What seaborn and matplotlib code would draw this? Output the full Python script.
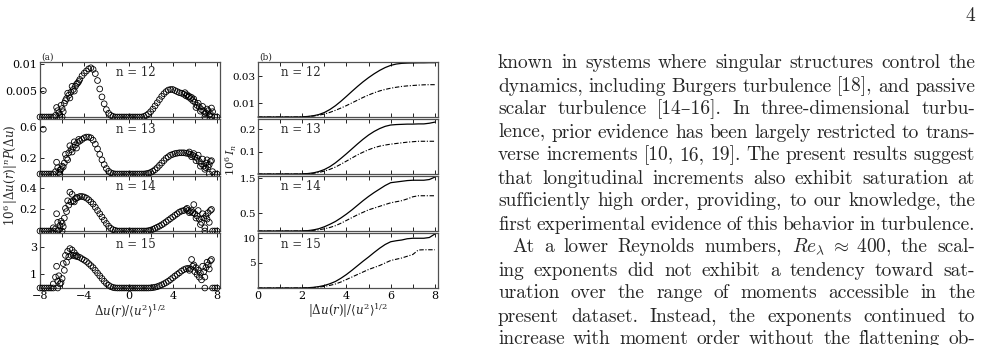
import re
import numpy as np
import pandas as pd
import matplotlib
matplotlib.use("Agg")
import matplotlib.pyplot as plt
import seaborn as sns

# ---------------- data ----------------
ORDERS = [12, 13, 14, 15]
ORDER_LABELS = ["n = 12", "n = 13", "n = 14", "n = 15"]

# panel (a): normalised increment grid
DU = [-8.0, -7.8, -7.6, -7.4, -7.2, -7.0, -6.8, -6.6, -6.4,
      -6.2, -6.0, -5.8, -5.6, -5.4, -5.2, -5.0, -4.8, -4.6,
      -4.4, -4.2, -4.0, -3.8, -3.6, -3.4, -3.2, -3.0, -2.8,
      -2.6, -2.4, -2.2, -2.0, -1.8, -1.6, -1.4, -1.2, -1.0,
      -0.8, -0.6, -0.4, -0.2, 0.0, 0.2, 0.4, 0.6, 0.8,
      1.0, 1.2, 1.4, 1.6, 1.8, 2.0, 2.2, 2.4, 2.6,
      2.8, 3.0, 3.2, 3.4, 3.6, 3.8, 4.0, 4.2, 4.4,
      4.6, 4.8, 5.0, 5.2, 5.4, 5.6, 5.8, 6.0, 6.2,
      6.4, 6.6, 6.8, 7.0, 7.2, 7.4, 7.6, 7.8, 8.0]

PDF12 = [0, 0, 0, 0, 0, 0, 0, 0.0003, 0.0012,
         0.0005, 0.0016, 0.0026, 0.0035, 0.0041, 0.0047, 0.0052, 0.0058, 0.0064,
         0.0071, 0.0078, 0.0083, 0.0087, 0.0091, 0.0093, 0.0090, 0.0082, 0.0069,
         0.0053, 0.0038, 0.0025, 0.0014, 0.0007, 0.0003, 0.0001, 0, 0,
         0, 0, 0, 0, 0, 0, 0, 0, 0,
         0, 0, 0.0001, 0.0003, 0.0006, 0.0010, 0.0015, 0.0021, 0.0027,
         0.0033, 0.0039, 0.0044, 0.0048, 0.0051, 0.0052, 0.0052, 0.0050, 0.0048,
         0.0046, 0.0045, 0.0043, 0.0040, 0.0038, 0.0035, 0.0031, 0.0028, 0.0022,
         0.0019, 0.0014, 0.0011, 0.0008, 0.0012, 0.0006, 0.0010, 0, 0]

PDF13 = [0, 0, 0, 0, 0, 0, 0, 0.03, 0.08,
         0.05, 0.10, 0.14, 0.20, 0.27, 0.31, 0.34, 0.37, 0.40,
         0.42, 0.44, 0.46, 0.47, 0.47, 0.46, 0.43, 0.38, 0.32,
         0.25, 0.18, 0.12, 0.07, 0.035, 0.015, 0.005, 0, 0,
         0, 0, 0, 0, 0, 0, 0, 0, 0,
         0, 0, 0, 0.004, 0.01, 0.02, 0.035, 0.055, 0.08,
         0.11, 0.14, 0.17, 0.20, 0.22, 0.24, 0.25, 0.26, 0.265,
         0.27, 0.27, 0.27, 0.265, 0.26, 0.25, 0.24, 0.22, 0.20,
         0.16, 0.13, 0.10, 0.14, 0.09, 0.16, 0.03, 0, 0]

PDF14 = [0, 0, 0, 0, 0, 0, 0, 0.02, 0.08,
         0.05, 0.07, 0.12, 0.18, 0.24, 0.27, 0.28, 0.30, 0.31,
         0.32, 0.32, 0.315, 0.305, 0.29, 0.27, 0.25, 0.22, 0.19,
         0.16, 0.13, 0.10, 0.07, 0.045, 0.025, 0.012, 0.005, 0,
         0, 0, 0, 0, 0, 0, 0, 0, 0,
         0, 0, 0, 0, 0.003, 0.008, 0.015, 0.025, 0.035,
         0.045, 0.057, 0.07, 0.085, 0.10, 0.115, 0.13, 0.145, 0.16,
         0.175, 0.185, 0.19, 0.20, 0.19, 0.18, 0.17, 0.16, 0.14,
         0.11, 0.08, 0.12, 0.14, 0.17, 0.19, 0, 0, 0]

PDF15 = [0, 0, 0, 0, 0, 0, 0, 0.8, 0.5,
         0.3, 0.7, 1.3, 1.9, 2.3, 2.4, 2.4, 2.35, 2.3,
         2.25, 2.15, 2.05, 1.95, 1.8, 1.65, 1.5, 1.3, 1.1,
         0.9, 0.7, 0.5, 0.33, 0.2, 0.1, 0.04, 0.01, 0,
         0, 0, 0, 0, 0, 0, 0, 0, 0,
         0, 0, 0, 0, 0, 0.01, 0.03, 0.06, 0.1,
         0.16, 0.23, 0.31, 0.4, 0.5, 0.62, 0.75, 0.88, 1.0,
         1.12, 1.25, 1.35, 1.42, 1.45, 1.4, 1.6, 1.2, 1.0,
         0.8, 0.6, 1.2, 1.5, 1.7, 2.0, 0, 0, 0]

# scattered extra samples in the poorly converged tails (x, value)
EXTRA12 = [(-7.7, 0.0050), (-6.5, 0.0018), (-6.3, 0.0008), (-6.1, 0.0022), (-5.9, 0.0010),
           (-5.7, 0.0031), (-5.5, 0.0045), (-5.3, 0.0036), (-5.1, 0.0058), (-4.9, 0.0049),
           (-4.7, 0.0062), (-4.5, 0.0067), (-6.2, 0.0), (-6.0, 0.0), (5.1, 0.0046),
           (5.3, 0.0042), (5.5, 0.0039), (5.7, 0.0037), (5.9, 0.0034), (6.1, 0.0018),
           (6.3, 0.0026), (6.5, 0.0011), (6.7, 0.0020), (6.9, 0.0006), (7.1, 0.0015),
           (7.3, 0.0004), (7.5, 0.0017), (7.5, 0.0001), (6.9, 0.0)]
EXTRA13 = [(-7.7, 0.57), (-6.5, 0.15), (-6.3, 0.02), (-6.1, 0.06), (-5.9, 0.09),
           (-5.7, 0.25), (-5.5, 0.18), (-5.3, 0.36), (-5.1, 0.28), (-4.9, 0.41),
           (-4.7, 0.33), (-4.5, 0.44), (-6.2, 0.0), (5.5, 0.28), (5.7, 0.22),
           (5.9, 0.26), (6.1, 0.17), (6.3, 0.24), (6.5, 0.10), (6.7, 0.19),
           (6.9, 0.06), (7.1, 0.18), (7.3, 0.12), (7.5, 0.17), (7.3, 0.0), (7.0, 0.08)]
EXTRA14 = [(-6.8, 0.03), (-6.5, 0.16), (-6.3, 0.01), (-6.1, 0.09), (-5.9, 0.04),
           (-5.7, 0.21), (-5.5, 0.28), (-5.3, 0.36), (-5.1, 0.34), (-4.9, 0.27),
           (-4.7, 0.31), (-6.4, 0.0), (-6.0, 0.0), (5.3, 0.21), (5.5, 0.17),
           (5.7, 0.19), (5.9, 0.245), (6.1, 0.12), (6.3, 0.19), (6.5, 0.06),
           (6.7, 0.16), (6.9, 0.03), (7.1, 0.11), (7.3, 0.08), (7.5, 0.20), (6.9, 0.0)]
EXTRA15 = [(-6.8, 0.3), (-6.5, 1.6), (-6.3, 0.9), (-6.1, 0.4), (-6.4, 0.0),
           (-5.9, 1.8), (-5.7, 2.4), (-5.5, 2.7), (-5.3, 2.9), (-5.1, 2.8),
           (-4.9, 2.6), (-4.7, 2.4), (5.5, 1.3), (5.7, 2.1), (5.9, 1.7),
           (6.1, 1.5), (6.3, 1.3), (6.5, 1.1), (6.7, 1.6), (6.9, 0.8),
           (7.1, 1.9), (7.3, 1.4), (7.5, 2.1), (6.9, 0.0)]

# panel (b): cumulative integrals I_n
DUB = [0.0, 0.25, 0.5, 0.75, 1.0, 1.25, 1.5, 1.75, 2.0, 2.25, 2.5, 2.75, 3.0,
       3.25, 3.5, 3.75, 4.0, 4.25, 4.5, 4.75, 5.0, 5.25, 5.5, 5.75, 6.0,
       6.25, 6.5, 6.75, 7.0, 7.25, 7.5, 7.75, 8.0]
I12_SOLID = [0, 0, 0, 0, 0, 0, 0, 0,
             0.0001, 0.0004, 0.0009, 0.0018, 0.0033, 0.0055, 0.0083, 0.0116, 0.0152,
             0.0189, 0.0225, 0.0259, 0.0290, 0.0318, 0.0343, 0.0364, 0.0380, 0.0390,
             0.0395, 0.0397, 0.0398, 0.0399, 0.0399, 0.0400, 0.0400]
I12_DASH = [0, 0, 0, 0, 0, 0, 0, 0,
            0.0001, 0.0003, 0.0007, 0.0013, 0.0022, 0.0034, 0.0049, 0.0066, 0.0084,
            0.0104, 0.0124, 0.0144, 0.0162, 0.0178, 0.0192, 0.0203, 0.0212, 0.0219,
            0.0225, 0.0229, 0.0232, 0.0235, 0.0237, 0.0238, 0.0238]
I13_SOLID = [0, 0, 0, 0, 0, 0, 0, 0,
             0.0005, 0.002, 0.005, 0.011, 0.020, 0.033, 0.050, 0.070, 0.091,
             0.113, 0.135, 0.156, 0.175, 0.191, 0.204, 0.214, 0.220, 0.222,
             0.223, 0.224, 0.224, 0.225, 0.225, 0.228, 0.233]
I13_DASH = [0, 0, 0, 0, 0, 0, 0, 0,
            0.0003, 0.0013, 0.003, 0.007, 0.013, 0.021, 0.031, 0.044, 0.058,
            0.072, 0.086, 0.098, 0.109, 0.118, 0.125, 0.130, 0.134, 0.137,
            0.140, 0.143, 0.145, 0.147, 0.147, 0.147, 0.147]
I14_SOLID = [0, 0, 0, 0, 0, 0, 0, 0,
             0.002, 0.01, 0.03, 0.065, 0.12, 0.19, 0.27, 0.37, 0.48,
             0.60, 0.73, 0.86, 0.98, 1.09, 1.19, 1.29, 1.37, 1.39,
             1.41, 1.43, 1.44, 1.44, 1.44, 1.46, 1.53]
I14_DASH = [0, 0, 0, 0, 0, 0, 0, 0,
            0.001, 0.006, 0.017, 0.035, 0.062, 0.10, 0.15, 0.22, 0.30,
            0.38, 0.46, 0.53, 0.60, 0.65, 0.70, 0.75, 0.80, 0.83,
            0.86, 0.91, 0.97, 1.00, 1.00, 1.00, 1.00]
I15_SOLID = [0, 0, 0, 0, 0, 0, 0, 0,
             0.01, 0.05, 0.13, 0.28, 0.50, 0.85, 1.30, 1.95, 2.70,
             3.55, 4.45, 5.35, 6.20, 7.10, 7.95, 8.70, 9.25, 9.45,
             9.60, 9.85, 9.95, 9.95, 9.95, 10.10, 10.80]
I15_DASH = [0, 0, 0, 0, 0, 0, 0, 0,
            0.005, 0.03, 0.08, 0.17, 0.32, 0.52, 0.80, 1.20, 1.70,
            2.20, 2.70, 3.20, 3.70, 4.10, 4.50, 5.00, 5.50, 5.75,
            6.00, 6.35, 6.70, 7.60, 7.65, 7.65, 7.65]

# axis ticks / limits
XTICKS_A = [-8, -6, -4, -2, 0, 2, 4, 6, 8]
XTICKLABELS_A = ["\u22128", "", "\u22124", "", "0", "", "4", "", "8"]
XTICKS_B = [0, 1, 2, 3, 4, 5, 6, 7, 8]
XTICKLABELS_B = ["0", "", "2", "", "4", "", "6", "", "8"]
YMAX_A = [0.0104, 0.70, 0.51, 4.05]
YTICKS_A = [[0.005, 0.01], [0.2, 0.6], [0.2, 0.4], [1, 3]]
YTICKLABELS_A = [["0.005", "0.01"], ["0.2", "0.6"], ["0.2", "0.4"], ["1", "3"]]
YMAX_B = [0.0405, 0.247, 1.56, 11.0]
YTICKS_B = [[0.01, 0.03], [0.1, 0.2], [0.5, 1.5], [5, 10]]
YTICKLABELS_B = [["0.01", "0.03"], ["0.1", "0.2"], ["0.5", "1.5"], ["5", "10"]]

PAGE_NUMBER = "4"
PAGE_LINES = [
    "known in systems where singular structures control the",
    "dynamics, including Burgers turbulence [18], and passive",
    "scalar turbulence [14\u201316].  In three-dimensional turbu-",
    "lence, prior evidence has been largely restricted to trans-",
    "verse increments [10, 16, 19]. The present results suggest",
    "that longitudinal increments also exhibit saturation at",
    "sufficiently high order, providing, to our knowledge, the",
    "first experimental evidence of this behavior in turbulence.",
    "At a lower Reynolds numbers, $Re_\\lambda\\;\\approx\\;400$, the scal-",
    "ing exponents did not exhibit a tendency toward sat-",
    "uration over the range of moments accessible in the",
    "present dataset.  Instead, the exponents continued to",
    "increase with moment order without the flattening ob-",
]
PARA_START = [8]

# ---------------- style ----------------
sns.set_style("ticks")
plt.rcParams["font.family"] = ["DejaVu Serif"]
plt.rcParams["mathtext.fontset"] = "dejavuserif"
plt.rcParams["axes.unicode_minus"] = True

W, H = 995, 345
fig = plt.figure(figsize=(W / 100, H / 100), dpi=100)
fig.patch.set_facecolor("white")

ROW_TOP = [62, 119, 176, 233]
ROW_H = 55
AX_A = (40, 180)
AX_B = (258, 180)
SPINE = "#505050"

pdfs = [PDF12, PDF13, PDF14, PDF15]
extras = [EXTRA12, EXTRA13, EXTRA14, EXTRA15]
isol = [I12_SOLID, I13_SOLID, I14_SOLID, I15_SOLID]
idash = [I12_DASH, I13_DASH, I14_DASH, I15_DASH]


def style_axes(ax, xt, xtl, show_xl):
    for s in ax.spines.values():
        s.set_color(SPINE)
        s.set_linewidth(0.9)
    ax.set_xticks(xt)
    ax.set_xticklabels(xtl if show_xl else [""] * len(xt))
    ax.tick_params(axis="both", direction="in", length=3, width=0.6,
                   colors="black", labelsize=8, pad=2, top=True, right=False)
    ax.set_xlabel("")
    ax.set_ylabel("")


for i, n in enumerate(ORDERS):
    top = ROW_TOP[i]
    # ---- panel (a)
    axA = fig.add_axes([AX_A[0] / W, 1 - (top + ROW_H) / H, AX_A[1] / W, ROW_H / H])
    ex = extras[i]
    df = pd.DataFrame({"du": DU + [p[0] for p in ex],
                       "val": pdfs[i] + [p[1] for p in ex]})
    sns.scatterplot(data=df, x="du", y="val", ax=axA, s=17, marker="o",
                    legend=False, zorder=3)
    coll = axA.collections[-1]
    coll.set_facecolor("none")
    coll.set_edgecolor("black")
    coll.set_linewidth(0.6)
    coll.set_clip_on(False)
    axA.set_xlim(-8, 8.27)
    axA.set_ylim(0, YMAX_A[i])
    axA.set_yticks(YTICKS_A[i])
    axA.set_yticklabels(YTICKLABELS_A[i])
    style_axes(axA, XTICKS_A, XTICKLABELS_A, i == 3)
    axA.text(0.53, 0.80, ORDER_LABELS[i], transform=axA.transAxes,
             ha="center", va="center", fontsize=8.5)

    # ---- panel (b)
    axB = fig.add_axes([AX_B[0] / W, 1 - (top + ROW_H) / H, AX_B[1] / W, ROW_H / H])
    sns.lineplot(x=DUB, y=isol[i], ax=axB, color="black", lw=0.9,
                 errorbar=None, clip_on=False)
    sns.lineplot(x=DUB, y=idash[i], ax=axB, color="black", lw=0.8,
                 linestyle=(0, (4, 1.5, 1, 1.5)), errorbar=None, clip_on=False)
    axB.set_xlim(0, 8.14)
    axB.set_ylim(0, YMAX_B[i])
    axB.set_yticks(YTICKS_B[i])
    axB.set_yticklabels(YTICKLABELS_B[i])
    style_axes(axB, XTICKS_B, XTICKLABELS_B, i == 3)
    axB.tick_params(axis="y", labelsize=7.5, pad=1.5)
    axB.text(0.24, 0.80, ORDER_LABELS[i], transform=axB.transAxes,
             ha="center", va="center", fontsize=8.5)

# panel tags and axis labels
fig.text(41 / W, 1 - 57 / H, "(a)", fontsize=6.5, ha="left", va="center")
fig.text(259 / W, 1 - 57 / H, "(b)", fontsize=6.5, ha="left", va="center")
fig.text(130 / W, 1 - 311 / H, r"$\Delta u(r)/\langle u^2\rangle^{1/2}$",
         ha="center", va="center", fontsize=8.5)
fig.text(348 / W, 1 - 311 / H, r"$|\Delta u(r)|/\langle u^2\rangle^{1/2}$",
         ha="center", va="center", fontsize=8.5)
fig.text(11 / W, 1 - 175 / H, r"$10^6\,|\Delta u(r)|^n P(\Delta u)$",
         ha="center", va="center", rotation=90, fontsize=8.5)
fig.text(231.5 / W, 1 - 160 / H, r"$10^6\, I_n$",
         ha="center", va="center", rotation=90, fontsize=8)

# ---------------- page text (justified) ----------------
BODY_FONT = ["cmr10", "DejaVu Serif"]
BODY_SIZE = 14.0
X0, X1 = 498, 975
LINE0, LSTEP = 64, 23.0
INDENT = 14
TOKEN = re.compile(r"\$[^$]*\$\S*|\S+")

fig.text(X1 / W, 1 - 21 / H, PAGE_NUMBER, ha="right", va="baseline",
         fontsize=BODY_SIZE, family=BODY_FONT)

renderer = fig.canvas.get_renderer()
for k, line in enumerate(PAGE_LINES):
    ybase = LINE0 + LSTEP * k + 4.5
    words = TOKEN.findall(line)
    texts = [fig.text(0, 1 - ybase / H, w, ha="left", va="baseline",
                      fontsize=BODY_SIZE, family=BODY_FONT, math_fontfamily="cm")
             for w in words]
    widths = [t.get_window_extent(renderer).width for t in texts]
    x_start = X0 + (INDENT if k in PARA_START else 0)
    gap = (X1 - x_start - sum(widths)) / max(len(words) - 1, 1)
    x = x_start
    for t, w in zip(texts, widths):
        t.set_x(x / W)
        x += w + gap

fig.savefig("out.png", dpi=100, facecolor="white")
